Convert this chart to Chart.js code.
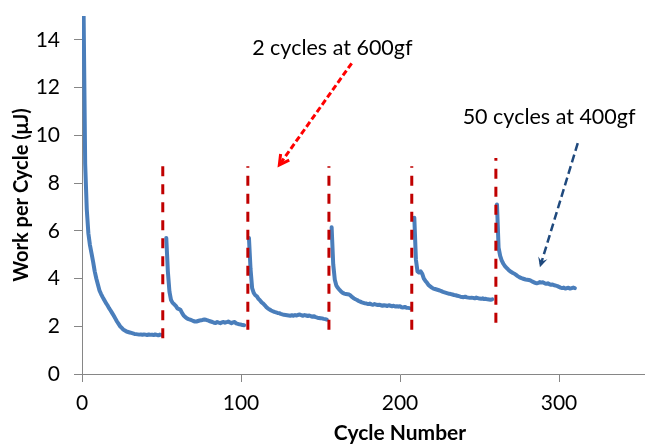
<!DOCTYPE html>
<html><head><meta charset="utf-8">
<script src="https://cdn.jsdelivr.net/npm/chart.js@4.4.1/dist/chart.umd.min.js"></script>
<style>html,body{margin:0;padding:0;overflow:hidden;background:#fff;}#wrap{width:740px;height:444px;}</style>
</head><body><div id="wrap"><canvas id="c" width="740" height="444"></canvas></div>
<script>
// Cycle number at which each 400gf block starts
const segStarts = [1, 53, 105, 157, 209, 261];
// Work per cycle (µJ), 50 cycles per block
const seg1 = [15.2,8.8,6.9,5.9,5.4,5.05,4.7,4.3,4.0,3.75,3.5,3.35,3.22,3.1,2.98,2.88,2.76,2.66,2.55,2.44,2.32,2.2,2.1,2.0,1.93,1.86,1.82,1.78,1.76,1.74,1.72,1.7,1.68,1.67,1.66,1.65,1.66,1.64,1.66,1.65,1.63,1.66,1.64,1.65,1.63,1.66,1.64,1.62,1.65,1.64];
const seg2 = [5.7,4.3,3.45,3.1,2.98,2.92,2.85,2.75,2.72,2.68,2.55,2.45,2.38,2.33,2.3,2.28,2.25,2.22,2.2,2.2,2.22,2.24,2.25,2.27,2.28,2.27,2.25,2.22,2.2,2.18,2.15,2.14,2.18,2.15,2.13,2.16,2.18,2.15,2.17,2.2,2.16,2.13,2.16,2.18,2.12,2.1,2.08,2.07,2.05,2.04];
const seg3 = [5.7,4.4,3.6,3.4,3.3,3.25,3.15,3.08,3.0,2.95,2.88,2.8,2.74,2.7,2.66,2.63,2.6,2.58,2.56,2.55,2.52,2.5,2.48,2.47,2.46,2.45,2.44,2.46,2.44,2.47,2.45,2.48,2.49,2.46,2.44,2.47,2.45,2.43,2.45,2.42,2.4,2.42,2.38,2.36,2.35,2.34,2.33,2.31,2.3,2.28];
const seg4 = [6.15,4.6,3.95,3.7,3.6,3.52,3.45,3.4,3.37,3.35,3.34,3.33,3.28,3.22,3.17,3.13,3.1,3.06,3.03,3.0,2.98,2.96,2.95,2.93,2.95,2.92,2.9,2.93,2.91,2.89,2.9,2.88,2.86,2.88,2.87,2.85,2.88,2.86,2.84,2.86,2.83,2.84,2.82,2.84,2.8,2.79,2.81,2.78,2.77,2.76];
const seg5 = [6.55,4.8,4.3,4.25,4.3,4.2,4.0,3.9,3.82,3.72,3.67,3.62,3.58,3.56,3.54,3.52,3.5,3.47,3.44,3.42,3.4,3.38,3.36,3.35,3.33,3.31,3.3,3.28,3.26,3.24,3.23,3.22,3.24,3.21,3.2,3.19,3.2,3.19,3.17,3.2,3.18,3.16,3.15,3.17,3.14,3.15,3.13,3.12,3.11,3.13];
const seg6 = [7.1,5.3,4.95,4.75,4.62,4.52,4.45,4.38,4.32,4.27,4.23,4.2,4.15,4.1,4.06,4.03,4.0,3.98,3.96,3.95,3.94,3.92,3.88,3.85,3.82,3.8,3.82,3.85,3.83,3.84,3.8,3.78,3.8,3.76,3.74,3.75,3.72,3.7,3.68,3.65,3.62,3.6,3.62,3.58,3.6,3.61,3.58,3.6,3.62,3.6];
const segments = [seg1, seg2, seg3, seg4, seg5, seg6];

// 600gf breaks (red dashed markers)
const breakX = [50.8, 104.3, 155.3, 207.4, 260.3];
const breakLow = [1.5, 1.85, 1.85, 1.85, 2.15];
const breakHigh = [8.7, 8.7, 8.7, 8.7, 9.05];

// Annotations (data coordinates)
const noteText = ['2 cycles at 600gf', '50 cycles at 400gf'];
const noteX = [107, 239.4];
const noteY = [13.66, 10.78];
const arrowFromX = [169.6, 311.8];
const arrowFromY = [13.02, 9.67];
const arrowToX = [124.1, 288];
const arrowToY = [8.76, 4.47];
const arrowColor = ['#ff0000', '#1f497d'];

const xTickMax = 300;

const datasets = [];
breakX.forEach((bx, i) => {
  datasets.push({
    data: [{x: bx, y: breakLow[i]}, {x: bx, y: breakHigh[i]}],
    borderColor: '#c00000', borderWidth: 3, borderDash: [10, 8],
    pointRadius: 0, order: 0, borderCapStyle: 'butt'
  });
});
segments.forEach((seg, s) => {
  datasets.push({
    data: seg.map((v, i) => ({x: segStarts[s] + i, y: v})),
    borderColor: '#4a7ebb', borderWidth: 4, pointRadius: 0,
    tension: 0, order: 1, borderJoinStyle: 'round', borderCapStyle: 'round'
  });
});

const notePlugin = {
  id: 'notes',
  afterDatasetsDraw(chart) {
    const {ctx, scales: {x, y}} = chart;
    ctx.save();
    ctx.font = '21.5px Lato';
    ctx.fillStyle = '#000';
    ctx.textBaseline = 'middle';
    ctx.textAlign = 'left';
    noteText.forEach((t, i) => ctx.fillText(t, x.getPixelForValue(noteX[i]), y.getPixelForValue(noteY[i])));
    for (let i = 0; i < arrowFromX.length; i++) {
      const x0 = x.getPixelForValue(arrowFromX[i]), y0 = y.getPixelForValue(arrowFromY[i]);
      const x1 = x.getPixelForValue(arrowToX[i]), y1 = y.getPixelForValue(arrowToY[i]);
      const ang = Math.atan2(y1 - y0, x1 - x0);
      ctx.strokeStyle = arrowColor[i];
      ctx.fillStyle = arrowColor[i];
      ctx.lineWidth = i === 0 ? 3 : 2.5;
      ctx.setLineDash(i === 0 ? [6, 3] : [8, 4]);
      ctx.beginPath();
      ctx.moveTo(x0, y0);
      ctx.lineTo(x1 - Math.cos(ang) * 3, y1 - Math.sin(ang) * 3);
      ctx.stroke();
      ctx.setLineDash([]);
      const L = 11, a = 0.5;
      if (i === 0) {
        ctx.beginPath();
        ctx.moveTo(x1 - L * Math.cos(ang - a), y1 - L * Math.sin(ang - a));
        ctx.lineTo(x1, y1);
        ctx.lineTo(x1 - L * Math.cos(ang + a), y1 - L * Math.sin(ang + a));
        ctx.stroke();
      } else {
        ctx.beginPath();
        ctx.moveTo(x1, y1);
        ctx.lineTo(x1 - L * Math.cos(ang - 0.45), y1 - L * Math.sin(ang - 0.45));
        ctx.lineTo(x1 - 6 * Math.cos(ang), y1 - 6 * Math.sin(ang));
        ctx.lineTo(x1 - L * Math.cos(ang + 0.45), y1 - L * Math.sin(ang + 0.45));
        ctx.closePath();
        ctx.fill();
      }
    }
    ctx.restore();
  }
};

new Chart(document.getElementById('c'), {
  type: 'line',
  data: { datasets },
  options: {
    responsive: false, animation: false,
    layout: { padding: { top: 16, right: 22, left: 0, bottom: 0 } },
    plugins: { legend: { display: false }, tooltip: { enabled: false } },
    scales: {
      x: {
        type: 'linear', min: 0, max: 400,
        afterFit: s => { s.height = 70; s.paddingLeft = 0; s.paddingRight = 0; },
        ticks: { stepSize: 100, padding: 9, color: '#000', font: { family: 'Lato', size: 21 },
          callback: v => (v > xTickMax ? '' : v) },
        grid: { drawOnChartArea: false, tickLength: 8, color: '#868686' },
        border: { color: '#868686', width: 1 },
        title: { display: true, text: 'Cycle Number', color: '#000',
          font: { family: 'Lato', size: 21, weight: 'bold', lineHeight: 1 }, padding: { top: 0, bottom: 0 } }
      },
      y: {
        min: 0, max: 15,
        afterFit: s => { s.width = 82; s.paddingTop = 0; s.paddingBottom = 0; },
        ticks: { stepSize: 2, includeBounds: false, padding: 14, color: '#000', font: { family: 'Lato', size: 21 } },
        grid: { drawOnChartArea: false, tickLength: 8, color: '#868686' },
        border: { color: '#868686', width: 1 },
        title: { display: true, text: 'Work per Cycle (μJ)', color: '#000',
          font: { family: 'Lato', size: 20, weight: 'bold' }, padding: { top: 10, bottom: 0 } }
      }
    }
  },
  plugins: [notePlugin]
});
</script></body></html>
